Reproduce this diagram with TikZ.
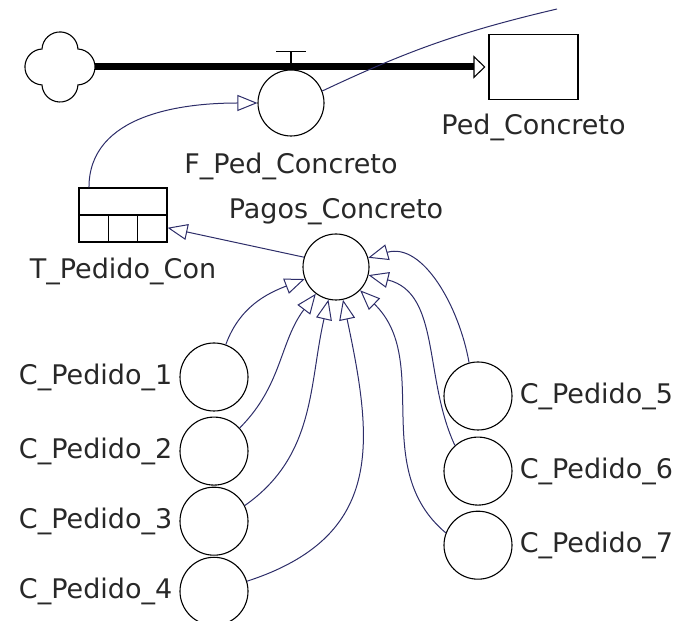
\documentclass[tikz,border=0pt]{standalone}
\usepackage{fontspec}
\setmainfont{DejaVu Sans}
\usepackage{tikz}
\usetikzlibrary{arrows.meta, positioning, calc}

\definecolor{linkblue}{RGB}{45,45,105}
\definecolor{txtgray}{RGB}{40,40,40}

\begin{document}
\begin{tikzpicture}[
  x=1pt, y=1pt,
  aux/.style={circle, draw=black, line width=1.1pt, minimum size=68pt, inner sep=0pt},
  box/.style={rectangle, draw=black, line width=1.1pt, inner sep=0pt},
  lbl/.style={inner sep=0pt, text=txtgray, font=\fontsize{27}{32}\selectfont},
  link/.style={draw=linkblue, line width=1pt, -{Triangle[open, length=20pt, width=16pt]}},
  pipe/.style={line width=7pt, shorten >=3pt, -{Triangle[open, length=12pt, width=23pt, line width=1.1pt]}}
]
\useasboundingbox (0,0) rectangle (683,621);
% source cloud, flow and stock
\node[circle, minimum size=70pt, inner sep=0pt] (cloud) at (60,554) {};
\draw[line width=1.1pt, shift={(cloud.center)}] (-18,18)
  arc[start angle=177, end angle=3, radius=18pt]
  arc[start angle=87, end angle=-87, radius=18pt]
  arc[start angle=-3, end angle=-177, radius=18pt]
  arc[start angle=267, end angle=93, radius=18pt] -- cycle;
\node[aux, minimum size=66pt] (valve) at (291,518) {};
\node[box, minimum width=89pt, minimum height=65pt] (stock) at (533.5,554) {};
\draw[pipe] (cloud.east) -- (stock.west);
\draw[line width=1.1pt] (valve.north) -- ++(0,18) ++(-15,0) -- ++(30,0);
\node[lbl, below=16pt of valve] (valvelbl) {F\_Ped\_Concreto};
\node[lbl, below=14pt of stock] (stocklbl) {Ped\_Concreto};
\coordinate (infoend) at (557,612);
\draw[link, -] (valve.21) to[bend left=6] (infoend);
% lookup table
\node[box, minimum width=88pt, minimum height=54pt] (tab) at (123,406) {};
\draw[line width=1.1pt] (tab.west) -- (tab.east)
  ($(tab.south west)!1/3!(tab.south east)$) -- ($(tab.west)!1/3!(tab.east)$)
  ($(tab.south west)!2/3!(tab.south east)$) -- ($(tab.west)!2/3!(tab.east)$);
\node[lbl, below=15pt of tab] (tablbl) {T\_Pedido\_Con};
% payments and orders
\node[aux, minimum size=66pt] (pagos) at (336,354) {};
\node[lbl, above=8pt of pagos] (pagoslbl) {Pagos\_Concreto};
\node[aux] (c1) at (214,244) {};
\node[aux, below=5pt of c1] (c2) {};
\node[aux, below=1pt of c2] (c3) {};
\node[aux, below=1pt of c3] (c4) {};
\node[aux] (c5) at (478,225) {};
\node[aux, below=6pt of c5] (c6) {};
\node[aux, below=5pt of c6] (c7) {};
\node[lbl, left=7pt of c1] (c1lbl) {C\_Pedido\_1};
\node[lbl, left=7pt of c2] (c2lbl) {C\_Pedido\_2};
\node[lbl, left=7pt of c3] (c3lbl) {C\_Pedido\_3};
\node[lbl, left=7pt of c4] (c4lbl) {C\_Pedido\_4};
\node[lbl, right=7pt of c5] (c5lbl) {C\_Pedido\_5};
\node[lbl, right=7pt of c6] (c6lbl) {C\_Pedido\_6};
\node[lbl, right=7pt of c7] (c7lbl) {C\_Pedido\_7};
\draw[link] (tab.141) to[out=90, in=180] (valve.west);
\draw[link] (pagos.163) -- (tab.344);
\foreach \c/\a/\o/\b/\l in {c1/70/70/201/1, c2/42/45/233/1, c3/27/35/257/1, c4/17/18/282/1.25,
                            c5/105/100/16/1, c6/132/115/346/1, c7/159/140/316/1}
  \draw[link] (\c.\a) to[out=\o, in=\b, looseness=\l] (pagos.\b);
\end{tikzpicture}
\end{document}
